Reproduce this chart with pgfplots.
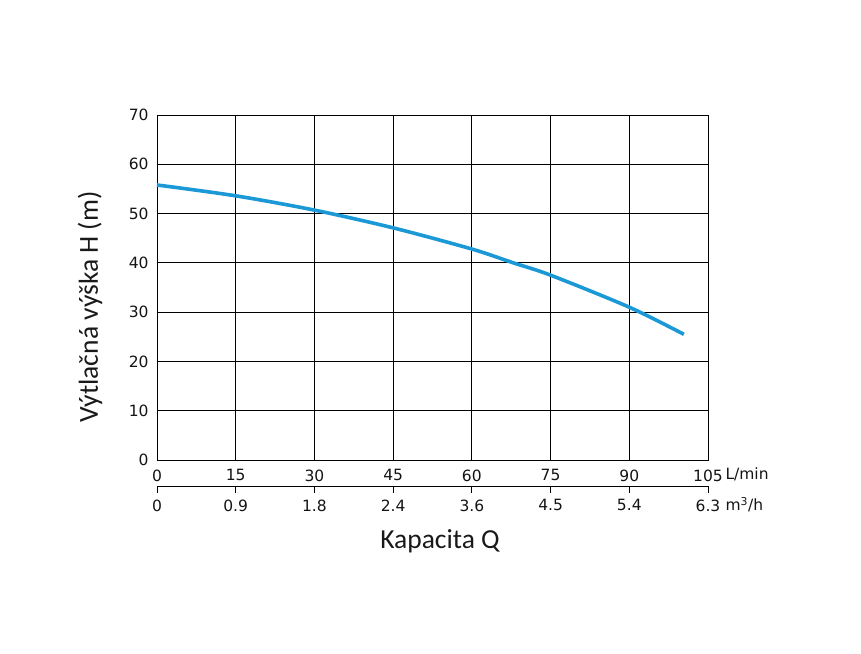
\documentclass[border=0pt]{standalone}
\usepackage{fontspec}
\setmainfont{DejaVu Sans}
\newfontfamily\labfont{Carlito}
\usepackage{pgfplots}
\pgfplotsset{compat=1.18}
\definecolor{curve}{RGB}{27,152,214}
\begin{document}
\begin{tikzpicture}
\path[use as bounding box] (-157bp,-194bp) rectangle (704bp,460bp);
\begin{axis}[
  at={(0,0)}, anchor=south west,
  scale only axis, width=551bp, height=345bp,
  xmin=0, xmax=105, ymin=0, ymax=70,
  xtick={0,15,...,105}, ytick={0,10,...,70},
  grid=major,
  major grid style={black, line width=0.9bp},
  axis line style={black, line width=0.9bp},
  major tick length=0pt,
  every tick label/.append style={font=\fontsize{15.5bp}{17bp}\selectfont, text=black!92},
  /pgf/number format/assume math mode=true,
  xticklabel style={yshift=-6bp},
  yticklabel style={xshift=-5bp},
  clip=false,
]
\addplot[curve, line width=3.6bp, smooth] coordinates {
 (0,55.8) (15,53.6) (30,50.7) (45,47.1) (60,42.8) (67.9,40.0) (75,37.5) (90,31.0) (100.4,25.5)
};
\end{axis}
\begin{axis}[
  at={(0,-26bp)}, anchor=south west,
  scale only axis, width=551bp, height=10bp,
  xmin=0, xmax=105, ymin=0, ymax=1,
  axis x line=bottom, axis y line=none,
  x axis line style={-, black, line width=0.9bp},
  xtick={0,15,...,105},
  xticklabels={0,0.9,1.8,2.4,3.6,4.5,5.4,6.3},
  xtick align=outside,
  major tick length=7bp,
  major tick style={black, line width=0.9bp},
  every tick label/.append style={font=\fontsize{15.5bp}{17bp}\selectfont, text=black!92},
  xticklabel style={yshift=-3bp},
]
\end{axis}
\node[anchor=west, font=\fontsize{15.5bp}{17bp}\selectfont, text=black!92] at (565bp,-14bp) {L/min};
\node[anchor=west, font=\fontsize{15.5bp}{17bp}\selectfont, text=black!92] at (565bp,-45bp) {m\textsuperscript{3}/h};
\node[rotate=90, font=\labfont\fontsize{27.5bp}{30bp}\selectfont, text=black!90] at (-67bp,153bp) {Výtlačná výška H (m)};
\node[font=\labfont\fontsize{27.5bp}{30bp}\selectfont, text=black!90] at (283bp,-81bp) {Kapacita Q};
\end{tikzpicture}
\end{document}
